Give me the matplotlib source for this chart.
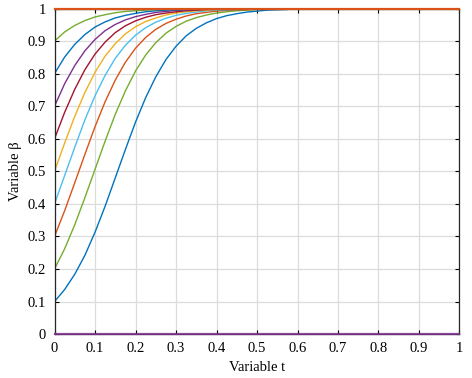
import matplotlib
matplotlib.use('Agg')
import matplotlib.pyplot as plt
import numpy as np

# time samples
t = [0.0, 0.025, 0.05, 0.075, 0.1, 0.125, 0.15, 0.175, 0.2, 0.225, 0.25, 0.275,
     0.3, 0.325, 0.35, 0.375, 0.4, 0.425, 0.45, 0.475, 0.5, 0.525, 0.55, 0.575]

# beta curves, one per starting value
b01 = [0.100, 0.137, 0.184, 0.242, 0.313, 0.393, 0.480, 0.567, 0.651, 0.726, 0.790, 0.843,
       0.884, 0.916, 0.939, 0.956, 0.969, 0.978, 0.984, 0.989, 0.992, 0.995, 0.996, 0.997]
b02 = [0.200, 0.262, 0.336, 0.419, 0.506, 0.593, 0.675, 0.747, 0.808, 0.857, 0.895, 0.924,
       0.945, 0.961, 0.972, 0.980, 0.986, 0.990, 0.993, 0.995, 0.997, 0.998, 0.998, 0.999]
b03 = [0.300, 0.379, 0.465, 0.552, 0.637, 0.714, 0.780, 0.835, 0.878, 0.911, 0.936, 0.954,
       0.967, 0.977, 0.984, 0.988, 0.992, 0.994, 0.996, 0.997, 0.998, 0.999, 0.999, 0.999]
b04 = [0.400, 0.487, 0.574, 0.658, 0.732, 0.795, 0.847, 0.887, 0.918, 0.941, 0.958, 0.970,
       0.979, 0.985, 0.989, 0.993, 0.995, 0.996, 0.997, 0.998, 0.999, 0.999, 0.999, 1.000]
b05 = [0.500, 0.587, 0.669, 0.742, 0.804, 0.854, 0.892, 0.922, 0.944, 0.960, 0.971, 0.980,
       0.986, 0.990, 0.993, 0.995, 0.997, 0.998, 0.998, 0.999, 0.999, 0.999, 1.000, 1.000]
b06 = [0.600, 0.681, 0.752, 0.812, 0.860, 0.897, 0.926, 0.947, 0.962, 0.973, 0.981, 0.986,
       0.990, 0.993, 0.995, 0.997, 0.998, 0.998, 0.999, 0.999, 0.999, 1.000, 1.000, 1.000]
b07 = [0.700, 0.769, 0.825, 0.870, 0.905, 0.932, 0.951, 0.965, 0.975, 0.982, 0.988, 0.991,
       0.994, 0.996, 0.997, 0.998, 0.999, 0.999, 0.999, 1.000, 1.000, 1.000, 1.000, 1.000]
b08 = [0.800, 0.851, 0.890, 0.920, 0.943, 0.959, 0.971, 0.979, 0.985, 0.990, 0.993, 0.995,
       0.996, 0.997, 0.998, 0.999, 0.999, 0.999, 1.000, 1.000, 1.000, 1.000, 1.000, 1.000]
b09 = [0.900, 0.928, 0.948, 0.963, 0.974, 0.981, 0.987, 0.991, 0.993, 0.995, 0.997, 0.998,
       0.998, 0.999, 0.999, 0.999, 1.000, 1.000, 1.000, 1.000, 1.000, 1.000, 1.000, 1.000]

# flat lines at the bounds
t_flat = [0.0, 1.0]
b_one = [1.0, 1.0]
b_zero = [0.0, 0.0]

# matlab default colours
blue = '#0072BD'
orange = '#D95319'
yellow = '#EDB120'
purple = '#7E2F8E'
green = '#77AC30'
lblue = '#4DBEEE'
dred = '#A2142F'

curves = [b01, b02, b03, b04, b05, b06, b07, b08, b09]
cols = [blue, green, orange, lblue, yellow, dred, purple, blue, green]

plt.rcParams['font.family'] = ['Liberation Serif', 'DejaVu Serif']

fig = plt.figure(figsize=(4.72, 3.78), dpi=100)
ax = fig.add_axes([0.1155, 0.116, 0.858, 0.8615])

for y, c in zip(curves, cols):
    ax.plot(t, y, color=c, lw=1.0)

ax.plot(t_flat, b_one, color=orange, lw=1.6, clip_on=False, zorder=5)
ax.plot(t_flat, b_zero, color=purple, lw=1.6, alpha=0.85, clip_on=False, zorder=5)

ax.set_xlim(0, 1)
ax.set_ylim(0, 1)
ax.set_xticks(np.arange(0, 1.01, 0.1))
ax.set_yticks(np.arange(0, 1.01, 0.1))
ax.set_xticklabels(['0', '0.1', '0.2', '0.3', '0.4', '0.5', '0.6', '0.7', '0.8', '0.9', '1'])
ax.set_yticklabels(['0', '0.1', '0.2', '0.3', '0.4', '0.5', '0.6', '0.7', '0.8', '0.9', '1'])
ax.tick_params(direction='in', length=3, width=0.8, top=True, right=True,
               labelsize=10.5, colors='black', pad=6)
ax.grid(True, color='#dcdcdc', lw=0.9)
ax.set_axisbelow(True)
for s in ax.spines.values():
    s.set_linewidth(0.9)
    s.set_color('#262626')

ax.set_xlabel('Variable t', fontsize=10.5, labelpad=4)
ax.set_ylabel('Variable β', fontsize=10.5, labelpad=4)

fig.savefig('out.png', dpi=100)
